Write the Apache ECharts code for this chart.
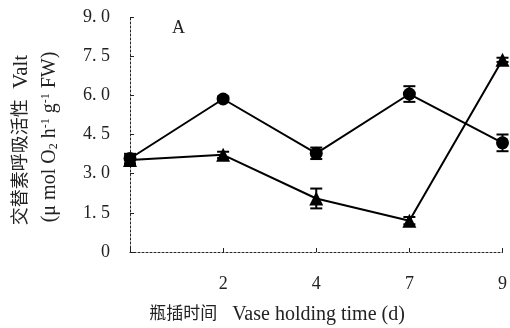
<!DOCTYPE html>
<html><head><meta charset="utf-8">
<script src="https://cdn.jsdelivr.net/npm/echarts@6/dist/echarts.min.js"></script>
<style>html,body{margin:0;padding:0;background:#fff}#c{width:510px;height:328px}</style>
</head><body><div id="c"></div>
<script>
const days = ['0', '2', '4', '7', '9'];
const xLabels = ['', '2', '4', '7', '9'];
const yLabels = ['0', '1. 5', '3. 0', '4. 5', '6. 0', '7. 5', '9. 0'];
const circleVals = [3.58, 5.86, 3.78, 6.05, 4.18];
const circleErr = [0.18, 0.1, 0.22, 0.3, 0.32];
const triVals = [3.52, 3.72, 2.05, 1.2, 7.36];
const triErr = [0.15, 0.12, 0.38, 0.14, 0.08];

const serif = '"Liberation Serif","Times New Roman","Noto Sans CJK SC",serif';
const chart = echarts.init(document.getElementById('c'));

function errSeries(vals, errs) {
  return {
    type: 'custom',
    clip: false,
    data: vals.map((v, i) => [i, v - errs[i], v + errs[i]]),
    renderItem: function (params, api) {
      const lo = api.coord([api.value(0), api.value(1)]);
      const hi = api.coord([api.value(0), api.value(2)]);
      const w = 6;
      const st = { stroke: '#000', lineWidth: 2 };
      return { type: 'group', children: [
        { type: 'line', shape: { x1: lo[0], y1: lo[1], x2: hi[0], y2: hi[1] }, style: st },
        { type: 'line', shape: { x1: lo[0] - w, y1: lo[1], x2: lo[0] + w, y2: lo[1] }, style: st },
        { type: 'line', shape: { x1: hi[0] - w, y1: hi[1], x2: hi[0] + w, y2: hi[1] }, style: st }
      ]};
    },
    z: 3
  };
}

chart.setOption({
  animation: false,
  backgroundColor: '#fff',
  grid: { left: 130, right: 5, top: 17, bottom: 76 },
  xAxis: {
    type: 'category', data: days, boundaryGap: false,
    axisLine: { lineStyle: { color: '#222', type: [2, 2], width: 1 } },
    axisTick: { inside: true, length: 4, lineStyle: { color: '#222' } },
    axisLabel: { margin: 23, fontFamily: serif, fontSize: 18, color: '#222',
      formatter: (v, i) => xLabels[i] }
  },
  yAxis: {
    type: 'value', min: 0, max: 9, interval: 1.5,
    splitLine: { show: false },
    axisLine: { show: true, lineStyle: { color: '#222', type: [2, 2], width: 1 } },
    axisTick: { show: true, inside: true, length: 4, lineStyle: { color: '#222' } },
    axisLabel: { margin: 20, fontFamily: serif, fontSize: 18, color: '#222',
      formatter: v => yLabels[Math.round(v / 1.5)] }
  },
  graphic: [
    { type: 'text', left: 172, top: 19, style: { text: 'A', font: '18px ' + serif, fill: '#222' } },
    { type: 'text', x: 277, y: 315,
      style: { text: '{c|瓶插时间}{e|   Vase holding time (d)}', align: 'center', verticalAlign: 'middle',
        rich: { c: { font: '17px ' + serif, fill: '#222' }, e: { font: '20px ' + serif, fill: '#222' } } } },
    { type: 'text', x: 21, y: 140, rotation: Math.PI / 2,
      style: { text: '{c|交替素呼吸活性}{e|  Valt}', align: 'center', verticalAlign: 'middle',
        rich: { c: { font: '18px ' + serif, fill: '#222' }, e: { font: '21px ' + serif, fill: '#222' } } } },
    { type: 'text', x: 50, y: 137, rotation: Math.PI / 2,
      style: { text: '{n|(μ mol O}{s|2}{n| h}{p|-1}{n| g}{p|-1}{n| FW)}', align: 'center', verticalAlign: 'middle',
        rich: {
          n: { font: '20px ' + serif, fill: '#222' },
          s: { font: '12px ' + serif, fill: '#222', verticalAlign: 'bottom', padding: [8, 0, 0, 0] },
          p: { font: '12px ' + serif, fill: '#222', verticalAlign: 'top', padding: [0, 0, 8, 0] }
        } } }
  ],
  series: [
    errSeries(circleVals, circleErr),
    errSeries(triVals, triErr),
    { type: 'line', data: circleVals, symbol: 'circle', symbolSize: 13, clip: false,
      lineStyle: { color: '#000', width: 2 }, itemStyle: { color: '#000' }, z: 4 },
    { type: 'line', data: triVals, symbol: 'triangle', symbolSize: 14, clip: false,
      lineStyle: { color: '#000', width: 2 }, itemStyle: { color: '#000' }, z: 4 }
  ]
});
</script></body></html>
